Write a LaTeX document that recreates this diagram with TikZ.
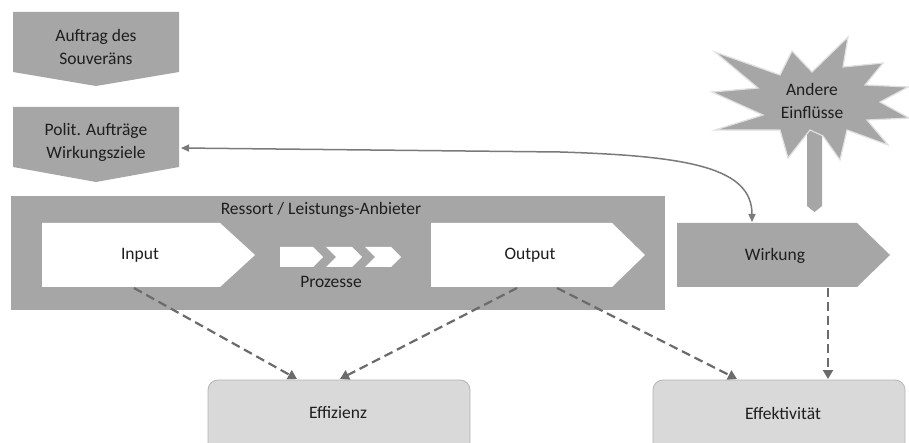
\documentclass[tikz,border=0pt]{standalone}
\usepackage{fontspec}
\setmainfont{Carlito}
\usetikzlibrary{arrows.meta}
\definecolor{boxgray}{HTML}{A6A6A6}
\definecolor{lightbox}{HTML}{D9D9D9}
\definecolor{edgegray}{HTML}{B4B4B4}
\definecolor{linkgray}{HTML}{7A7A7A}
\definecolor{dashgray}{HTML}{6B6B6B}
\definecolor{txt}{HTML}{1E1E1E}
\tikzset{
  lbl/.style={text=txt, font=\fontsize{17.5}{23}\selectfont, align=center, inner sep=0pt},
  graybody/.style={fill=boxgray},
  whitebody/.style={fill=white},
  resultbox/.style={fill=lightbox, draw=edgegray, line width=0.8pt, rounded corners=10pt},
  dashlink/.style={draw=dashgray, line width=2.2pt, dash pattern=on 9pt off 5pt,
    -{Triangle[length=9pt,width=10pt]}},
  curvelink/.style={draw=linkgray, line width=1.5pt,
    {Triangle[length=8pt,width=7pt]}-{Triangle[length=8pt,width=7pt]}},
}
\begin{document}
\begin{tikzpicture}[x=1pt, y=-1pt]
\clip (0,0) rectangle (909,443);
\fill[white] (0,0) rectangle (909,443);

% mandate of the sovereign (pointing down)
\fill[graybody] (13,12) -- (179,12) -- (179,72) -- (96,86) -- (13,72) -- cycle;
\node[lbl] (auftrag) at (96,47) {Auftrag des\\Souveräns};

% political mandates / impact goals
\fill[graybody] (13,107) -- (179,107) -- (179,167) -- (96,182) -- (13,167) -- cycle;
\node[lbl] (polit) at (96,142) {Polit. Aufträge\\Wirkungsziele};
\coordinate (polit-e) at (181,148);

% ministry / service provider
\fill[graybody] (11,196) rectangle (665,310);
\node[lbl] (ressort) at (321,210) {Ressort / Leistungs-Anbieter};

% input
\fill[whitebody] (42,223) -- (220,223) -- (255,255) -- (220,287) -- (42,287) -- cycle;
\node[lbl] (input) at (140,255) {Input};
\coordinate (input-s) at (134,288);

% processes
\fill[whitebody] (280,247) -- (313,247) -- (323,257) -- (313,267) -- (280,267) -- cycle;
\fill[whitebody] (326,247) -- (352,247) -- (362,257) -- (352,267) -- (326,267) -- (336,257) -- cycle;
\fill[whitebody] (365,247) -- (391,247) -- (401,257) -- (391,267) -- (365,267) -- (375,257) -- cycle;
\node[lbl] (prozesse) at (331,282) {Prozesse};

% output
\fill[whitebody] (431,223) -- (612,223) -- (645,255) -- (612,287) -- (431,287) -- cycle;
\node[lbl] (output) at (530,255) {Output};
\coordinate (output-sl) at (517,288);
\coordinate (output-sr) at (557,288);

% impact
\fill[graybody] (677,223) -- (857,223) -- (890,255) -- (857,287) -- (677,287) -- cycle;
\node[lbl] (wirkung) at (775,256) {Wirkung};
\coordinate (wirkung-n) at (752,222);
\coordinate (wirkung-s) at (828,288);

% other influences: post and burst
\fill[graybody] (807,130) -- (822,130) -- (822,206) -- (814.5,212) -- (807,206) -- cycle;
\filldraw[graybody, draw=white!88!black, line width=1.2pt, line join=miter]
  (715,52) -- (780,75) -- (792,51) -- (812,72) -- (848,37) -- (843,67)
  -- (883,63) -- (865,85) -- (908,87) -- (880,102) -- (909,118) -- (867,120)
  -- (888,145) -- (847,130) -- (840,160) -- (823,136) -- (810,130)
  -- (788,158) -- (780,130) -- (715,130) -- (763,115) -- (712,92)
  -- (758,88) -- cycle;
\node[lbl] (einfluss) at (812,101) {Andere\\Einflüsse};

% results
\path[resultbox] (208,380) rectangle (470,470);
\node[lbl] (effizienz) at (338,413) {Effizienz};
\path[resultbox] (653,380) rectangle (905,470);
\node[lbl] (effektiv) at (783,413) {Effektivität};
\coordinate (eff-a) at (297,379);
\coordinate (eff-b) at (340,379);
\coordinate (efk-a) at (737,379);
\coordinate (efk-b) at (828,379);

% links
\draw[curvelink] (polit-e) -- (560,152) .. controls (690,156) and (752,168) .. (wirkung-n);
\draw[dashlink] (input-s) -- (eff-a);
\draw[dashlink] (output-sl) -- (eff-b);
\draw[dashlink] (output-sr) -- (efk-a);
\draw[dashlink] (wirkung-s) -- (efk-b);
\end{tikzpicture}
\end{document}
